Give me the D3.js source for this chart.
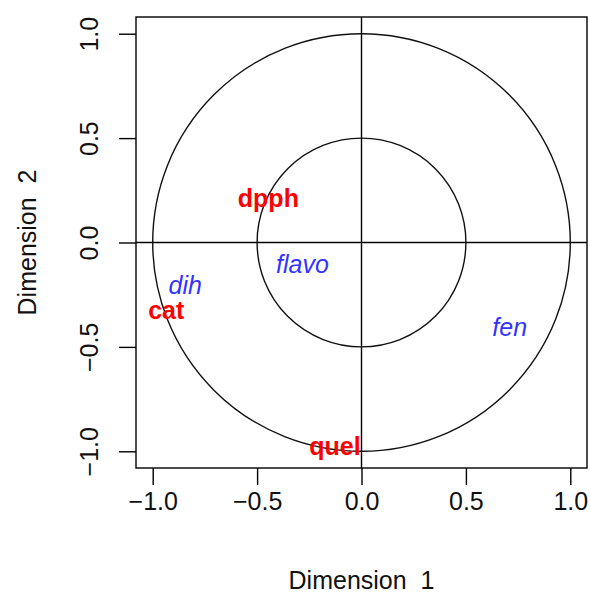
<!DOCTYPE html>
<html>
<head>
<meta charset="utf-8">
<script src="https://cdn.jsdelivr.net/npm/d3@7"></script>
<style>
  body { margin: 0; background: #fff; }
  text { font-family: "Liberation Sans", Arial, sans-serif; }
</style>
</head>
<body>
<div class="chart"></div>
<script>
// variables plotted on the correlation circle
var names = ['dpph', 'cat', 'quel', 'dih', 'flavo', 'fen'],
  dim1 = [-0.446, -0.935, -0.127, -0.844, -0.283, 0.71],
  dim2 = [0.215, -0.321, -0.973, -0.202, -0.101, -0.405],
  // active (red bold) vs supplementary (blue italic)
  kinds = ['active', 'active', 'active', 'sup', 'sup', 'sup'],
  ticks = [-1, -0.5, 0, 0.5, 1],
  radii = [1, 0.5];

var w = 590,
  h = 593,
  fs = 25,
  margin = { top: 17, right: 3, bottom: 125, left: 136 };

var svg = d3.select('.chart')
  .append('svg')
  .attr('width', w)
  .attr('height', h);

// R style 4% padding around [-1, 1]
var x = d3.scaleLinear()
  .domain([-1.08, 1.08])
  .range([margin.left, w - margin.right]);
var y = d3.scaleLinear()
  .domain([-1.08, 1.08])
  .range([468, margin.top]);

var g = svg.append('g');

// reference lines through the origin
g.append('line')
  .attr('x1', x(-1.08)).attr('x2', x(1.08))
  .attr('y1', y(0)).attr('y2', y(0))
  .attr('stroke', '#000').attr('stroke-width', 1.4);
g.append('line')
  .attr('x1', x(0)).attr('x2', x(0))
  .attr('y1', y(-1.08)).attr('y2', y(1.08))
  .attr('stroke', '#000').attr('stroke-width', 1.4);

// circles, radius in data units
g.selectAll('circle.ring')
  .data(radii)
  .enter()
  .append('circle')
  .attr('class', 'ring')
  .attr('cx', x(0))
  .attr('cy', y(0))
  .attr('r', function (d) { return x(d) - x(0); })
  .attr('fill', 'none')
  .attr('stroke', '#111')
  .attr('stroke-width', 1.4);

// variable labels
g.selectAll('text.var')
  .data(names)
  .enter()
  .append('text')
  .attr('class', 'var')
  .attr('x', function (d, i) { return x(dim1[i]); })
  .attr('y', function (d, i) { return y(dim2[i]); })
  .attr('dy', '0.36em')
  .attr('text-anchor', 'middle')
  .attr('font-size', fs + 'px')
  .attr('font-weight', function (d, i) { return kinds[i] === 'active' ? 'bold' : 'normal'; })
  .attr('font-style', function (d, i) { return kinds[i] === 'active' ? 'normal' : 'italic'; })
  .attr('fill', function (d, i) { return kinds[i] === 'active' ? '#ff0000' : '#3333ff'; })
  .text(function (d) { return d; });

// box
svg.append('rect')
  .attr('x', x(-1.08))
  .attr('y', y(1.08))
  .attr('width', x(1.08) - x(-1.08))
  .attr('height', y(-1.08) - y(1.08))
  .attr('fill', 'none')
  .attr('stroke', '#000')
  .attr('stroke-width', 1.4);

var fmt = d3.format('.1f');

// x axis
var xAxis = svg.append('g')
  .attr('transform', 'translate(0,' + y(-1.08) + ')')
  .call(d3.axisBottom(x).tickValues(ticks).tickSize(17).tickPadding(25).tickFormat(fmt));

// y axis, labels turned like R does
var yAxis = svg.append('g')
  .attr('transform', 'translate(' + x(-1.08) + ',0)')
  .call(d3.axisLeft(y).tickValues(ticks).tickSize(17).tickFormat(fmt));

xAxis.select('.domain').remove();
yAxis.select('.domain').remove();
svg.selectAll('.tick line').attr('stroke', '#000').attr('stroke-width', 1.4);
xAxis.selectAll('.tick text')
  .attr('font-size', fs + 'px')
  .attr('font-family', '"Liberation Sans", Arial, sans-serif')
  .attr('fill', '#111')
  .attr('dy', 0);
yAxis.selectAll('.tick text')
  .attr('font-size', fs + 'px')
  .attr('font-family', '"Liberation Sans", Arial, sans-serif')
  .attr('fill', '#111')
  .attr('x', 0).attr('dy', 0)
  .attr('text-anchor', 'middle')
  .attr('transform', 'translate(-38,0) rotate(-90)');

// axis titles
svg.append('text')
  .attr('x', x(0))
  .attr('y', 589)
  .attr('text-anchor', 'middle')
  .attr('font-size', fs + 'px')
  .attr('fill', '#111')
  .text('Dimension  1')
  .style('white-space', 'pre');

svg.append('text')
  .attr('transform', 'translate(36,' + y(0) + ') rotate(-90)')
  .attr('text-anchor', 'middle')
  .attr('font-size', fs + 'px')
  .attr('fill', '#111')
  .text('Dimension  2')
  .style('white-space', 'pre');
</script>
</body>
</html>
